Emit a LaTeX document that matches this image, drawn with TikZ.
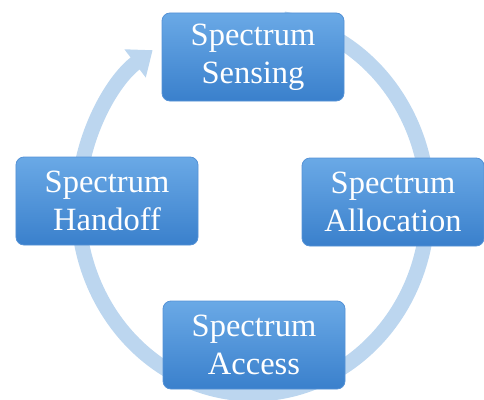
\documentclass[tikz,border=0pt]{standalone}
\usepackage{fontspec}
\setmainfont{Liberation Serif}
\newfontfamily\cyclefont{Liberation Serif}
\usepackage{tikz}
\usetikzlibrary{positioning,arrows.meta}
\definecolor{boxTop}{HTML}{6AA9E6}
\definecolor{boxBot}{HTML}{3A80CC}
\definecolor{boxEdge}{HTML}{5592D6}
\definecolor{ringBlue}{HTML}{BCD6EF}

\begin{document}
\begin{tikzpicture}[x=1bp, y=1bp,
  every node/.style={font=\cyclefont\fontsize{32.5bp}{38bp}\selectfont},
  box/.style={draw=boxEdge, line width=0.8bp, rounded corners=8bp, top color=boxTop, bottom color=boxBot,
    text=white, align=center, minimum width=182bp, minimum height=88bp, inner sep=0pt},
  ring/.style={draw=ringBlue, line width=15bp, -{Triangle[width=34bp, length=22bp]}}]
\useasboundingbox (0,0) rectangle (484,399);
\coordinate (mid) at (253,194);
% cycle arrow behind the boxes
\draw[ring] ([shift={(80:175 and 189)}]mid) arc[start angle=80, end angle=-235, x radius=175, y radius=189];
\node[box] (sense) at (253,342) {Spectrum\\Sensing};
\node[box] (alloc) at (393,197) {Spectrum\\Allocation};
\node[box] (access) at (254,54) {Spectrum\\Access};
\node[box] (handoff) at (107,198) {Spectrum\\Handoff};
\end{tikzpicture}
\end{document}
